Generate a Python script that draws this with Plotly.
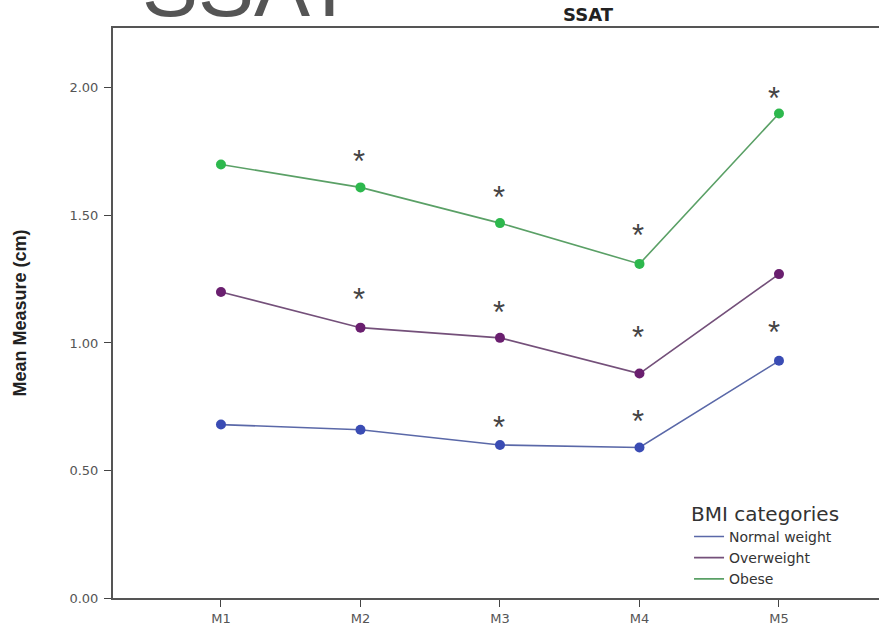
import plotly.graph_objects as go

categories = ["M1", "M2", "M3", "M4", "M5"]
normal_weight = [0.68, 0.66, 0.60, 0.59, 0.93]
overweight = [1.20, 1.06, 1.02, 0.88, 1.27]
obese = [1.70, 1.61, 1.47, 1.31, 1.90]

# significance asterisks: (category, y value in cm)
stars_obese = [("M2", 1.73), ("M3", 1.59), ("M4", 1.44), ("M5", 1.98)]
stars_over = [("M2", 1.19), ("M3", 1.14), ("M4", 1.04)]
stars_normal = [("M3", 0.69), ("M4", 0.71), ("M5", 1.06)]

series = [
    ("Normal weight", normal_weight, "#5a68a8", "#3a4cb4"),
    ("Overweight", overweight, "#74507a", "#6a1f6f"),
    ("Obese", obese, "#5aa066", "#2db84d"),
]

cat_idx = {c: i for i, c in enumerate(categories)}

fig = go.Figure()
for name, vals, lc, mc in series:
    fig.add_trace(go.Scatter(
        x=list(range(len(categories))), y=vals, mode="lines+markers",
        line=dict(color=lc, width=1.6), marker=dict(color=mc, size=10),
        showlegend=False, name=name))
for name, vals, lc, mc in series:
    fig.add_trace(go.Scatter(
        x=[None], y=[None], mode="lines", line=dict(color=lc, width=1.6),
        name=name, showlegend=True))

for group in (stars_obese, stars_over, stars_normal):
    for c, yv in group:
        fig.add_annotation(x=cat_idx[c], y=yv, text="*", showarrow=False,
                           xanchor="center", yanchor="middle",
                           xshift=-5 if c == "M5" else -1, yshift=-5,
                           font=dict(size=31, color="#444444", family="Liberation Sans"))

fig.add_annotation(xref="paper", yref="paper", x=0.035, y=1.0, yshift=-8,
                   text="SSAT", showarrow=False, xanchor="left", yanchor="bottom",
                   font=dict(size=84, color="#555555", family="Liberation Sans"))

fig.update_layout(
    width=879, height=631,
    margin=dict(l=113, r=0, t=28, b=33),
    paper_bgcolor="white", plot_bgcolor="white",
    title=dict(text="<b>SSAT</b>", x=0.669, xanchor="center", y=0.976, yanchor="middle",
               font=dict(size=18, color="#222222", family="DejaVu Sans")),
    xaxis=dict(range=[-0.774, 4.717], tickmode="array",
               tickvals=list(range(len(categories))), ticktext=categories,
               showgrid=False, zeroline=False, showline=True, linecolor="#555555",
               linewidth=2, mirror=True, ticks="outside", ticklen=7, tickcolor="#444444",
               tickfont=dict(size=13, color="#555555", family="DejaVu Sans")),
    yaxis=dict(range=[0, 2.235], tickvals=[0, 0.5, 1.0, 1.5, 2.0], tickformat=".2f",
               showgrid=False, zeroline=False, showline=True, linecolor="#555555",
               linewidth=2, ticks="outside", ticklen=7, tickcolor="#444444",
               ticklabelstandoff=3,
               tickfont=dict(size=13, color="#555555", family="DejaVu Sans"),
               title=dict(text="<b>Mean Measure (cm)</b>", standoff=38,
                          font=dict(size=18, color="#222222", family="Liberation Sans"))),
    legend=dict(x=0.752, y=0.181, xanchor="left", yanchor="top",
                bgcolor="rgba(0,0,0,0)",
                title=dict(text="BMI categories", font=dict(size=20, color="#333333",
                                                            family="DejaVu Sans")),
                font=dict(size=14, color="#333333", family="DejaVu Sans"),
                itemwidth=30, tracegroupgap=0),
)

fig.write_html("out.html", config={"displayModeBar": False},
               post_script="document.body.style.margin='0';document.body.style.overflow='hidden';")
